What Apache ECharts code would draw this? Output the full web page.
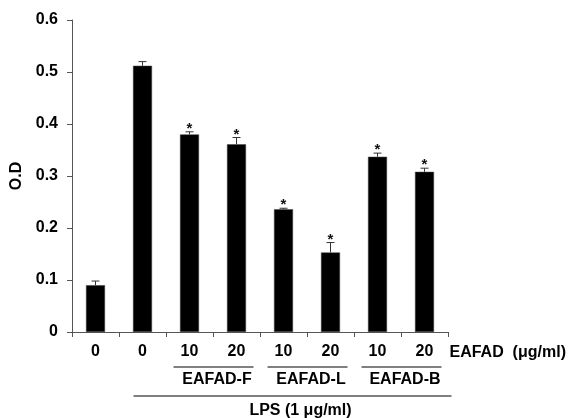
<!DOCTYPE html>
<html>
<head>
<meta charset="utf-8">
<script src="https://cdn.jsdelivr.net/npm/echarts@6/dist/echarts.min.js"></script>
<style>
html,body{margin:0;padding:0;background:#fff;}
#c{width:571px;height:418px;}
</style>
</head>
<body>
<div id="c"></div>
<script>
const categories = ['0', '0', '10', '20', '10', '20', '10', '20'];
const values = [0.090, 0.512, 0.380, 0.361, 0.236, 0.153, 0.337, 0.308];
const errors = [0.008, 0.008, 0.005, 0.013, 0.002, 0.019, 0.007, 0.007];
const significant = [0, 0, 1, 1, 1, 1, 1, 1];
const yTicks = [0, 0.1, 0.2, 0.3, 0.4, 0.5, 0.6];
const groupLabels = ['EAFAD-F', 'EAFAD-L', 'EAFAD-B'];
const groupFrom = [2, 4, 6];
const groupTo = [3, 5, 7];
const lpsFrom = 1, lpsTo = 7;
const doseUnitLabel = 'EAFAD  (\u03bcg/ml)';
const lpsLabel = 'LPS (1 \u03bcg/ml)';
const yName = 'O.D';

const FONT = 'Liberation Sans, Arial, sans-serif';
const FS = 16;
const chart = echarts.init(document.getElementById('c'));

chart.setOption({
  animation: false,
  backgroundColor: '#fff',
  grid: {left: 72, right: 123, top: 20, bottom: 86},
  xAxis: {
    type: 'category',
    data: categories,
    boundaryGap: true,
    axisLine: {lineStyle: {color: '#555', width: 1}},
    axisTick: {show: true, length: 5, inside: false, alignWithLabel: false, lineStyle: {color: '#555'}},
    axisLabel: {margin: 12, color: '#000', fontFamily: FONT, fontWeight: 'bold', fontSize: FS, interval: 0},
    splitLine: {show: false}
  },
  yAxis: {
    type: 'value',
    min: 0, max: 0.6, interval: 0.1,
    name: yName,
    nameLocation: 'middle',
    nameGap: 44,
    nameRotate: 90,
    nameTextStyle: {color: '#000', fontFamily: FONT, fontWeight: 'bold', fontSize: FS},
    axisLine: {show: true, lineStyle: {color: '#555', width: 1}},
    axisTick: {show: true, length: 5, lineStyle: {color: '#555'}},
    axisLabel: {margin: 14, color: '#000', fontFamily: FONT, fontWeight: 'bold', fontSize: FS,
      formatter: v => { const t = yTicks.find(x => Math.abs(x - v) < 1e-9); return t === 0 ? '0' : String(+(t).toFixed(1)); }},
    splitLine: {show: false}
  },
  series: [
    {
      type: 'bar',
      data: values,
      barWidth: 19,
      itemStyle: {color: '#000', borderColor: '#444', borderWidth: 0.5},
      z: 2
    },
    {
      type: 'custom',
      data: values.map((v, i) => [i, v, errors[i], significant[i]]),
      z: 3,
      renderItem: function (params, api) {
        const i = api.value(0), v = api.value(1), e = api.value(2), s = api.value(3);
        const base = api.coord([i, v]);
        const top = api.coord([i, v + e]);
        const children = [
          {type: 'line', shape: {x1: base[0], y1: base[1], x2: top[0], y2: top[1]}, style: {stroke: '#333', lineWidth: 1}},
          {type: 'line', shape: {x1: top[0] - 4, y1: top[1], x2: top[0] + 4, y2: top[1]}, style: {stroke: '#333', lineWidth: 1}}
        ];
        if (s) {
          children.push({type: 'text', x: top[0], y: top[1] - 3,
            style: {text: '*', fill: '#111', font: 'bold 15px ' + FONT, align: 'center', verticalAlign: 'middle'}});
        }
        return {type: 'group', children: children};
      }
    }
  ]
});

function cx(i) { return chart.convertToPixel({xAxisIndex: 0}, i); }
const bottomY = 332;
const graphics = [];
graphics.push({type: 'text', left: cx(7) + 25, top: bottomY + 13,
  style: {text: doseUnitLabel, fill: '#000', font: 'bold ' + FS + 'px ' + FONT}});
for (let g = 0; g < groupLabels.length; g++) {
  const x1 = cx(groupFrom[g]) - 16, x2 = cx(groupTo[g]) + 17;
  graphics.push({type: 'line', shape: {x1: x1, y1: bottomY + 35, x2: x2, y2: bottomY + 35}, style: {stroke: '#000', lineWidth: 1}});
  graphics.push({type: 'text', x: (cx(groupFrom[g]) + cx(groupTo[g])) / 2 + 4, y: bottomY + 48,
    style: {text: groupLabels[g], fill: '#000', font: 'bold ' + FS + 'px ' + FONT, align: 'center', verticalAlign: 'middle'}});
}
graphics.push({type: 'line', shape: {x1: cx(lpsFrom) - 9, y1: bottomY + 64, x2: cx(lpsTo) + 27, y2: bottomY + 64}, style: {stroke: '#000', lineWidth: 1}});
graphics.push({type: 'text', x: (cx(lpsFrom) + cx(lpsTo)) / 2 + 17, y: bottomY + 79,
  style: {text: lpsLabel, fill: '#000', font: 'bold ' + FS + 'px ' + FONT, align: 'center', verticalAlign: 'middle'}});
chart.setOption({graphic: graphics});
</script>
</body>
</html>
